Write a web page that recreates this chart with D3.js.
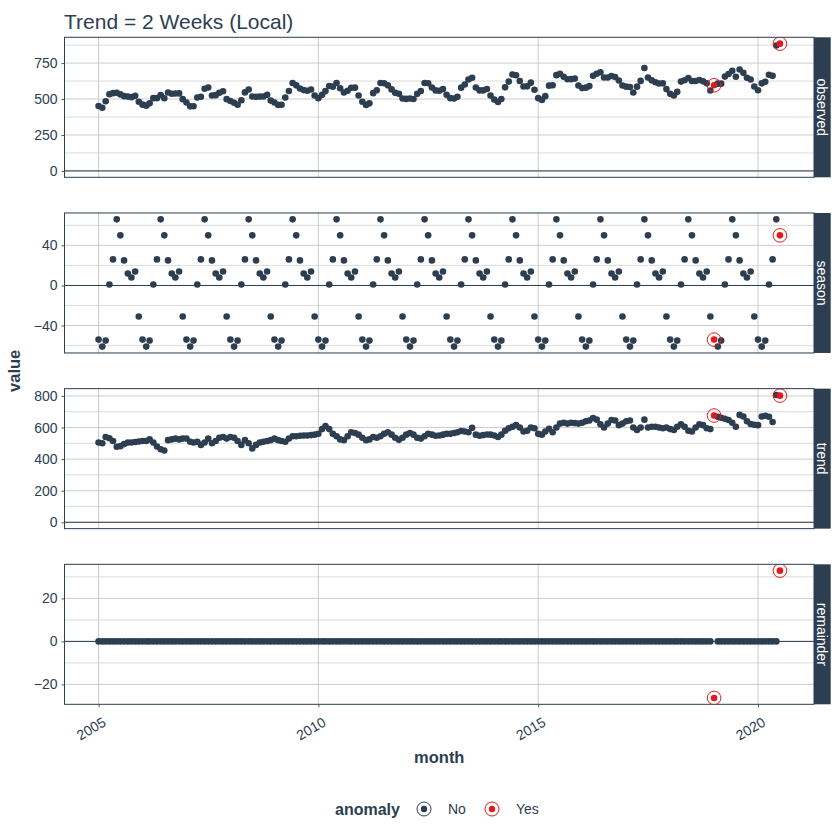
<!DOCTYPE html>
<html>
<head>
<meta charset="utf-8">
<script src="https://cdn.jsdelivr.net/npm/d3@7"></script>
<style>
  body { margin: 0; background: #fff; }
  text { font-family: "Liberation Sans", Arial, sans-serif; }
</style>
</head>
<body>
<div id="chart"></div>
<script>
// monthly trend component, Jan 2005 .. Jul 2020
const startMonth = "2005-01";
const trend = [
  505, 500, 540, 532, 515, 478, 482, 495, 505, 505, 508, 512, // 2005
  515, 515, 525, 505, 480, 462, 455, 520, 525, 530, 525, 530, // 2006
  530, 510, 505, 510, 490, 505, 530, 500, 515, 535, 540, 530, // 2007
  540, 535, 515, 490, 520, 500, 468, 490, 505, 510, 515, 520, // 2008
  530, 520, 515, 510, 530, 545, 545, 548, 550, 550, 552, 555, // 2009
  560, 590, 610, 590, 560, 545, 525, 520, 545, 570, 565, 555, // 2010
  535, 520, 525, 540, 535, 545, 560, 570, 555, 535, 522, 535, // 2011
  555, 565, 555, 535, 530, 545, 560, 555, 548, 550, 555, 560, // 2012
  560, 565, 570, 578, 575, 570, 598, 555, 548, 552, 556, 555, // 2013
  550, 540, 555, 580, 595, 605, 615, 600, 575, 580, 600, 595, // 2014
  560, 555, 575, 592, 570, 600, 625, 630, 625, 630, 628, 625, // 2015
  630, 640, 645, 660, 650, 620, 600, 625, 648, 645, 615, 625, // 2016
  640, 645, 600, 585, 600, 650, 600, 605, 605, 600, 595, 600, // 2017
  590, 585, 605, 620, 605, 580, 575, 600, 620, 615, 595, 590, // 2018
  676, 668, 662, 655, 648, 630, 605, 680, 670, 640, 622, 618, // 2019
  615, 670, 675, 668, 635, 806, 802                          // 2020
];
// seasonal component by calendar month (Jan..Dec)
const seasonByMonth = [-54, -61, -55, 1, 26, 66, 50, 25, 12, 8, 14, -31];
// anomalies: month and remainder value (remainder is 0 elsewhere)
const anomalyMonths = ["2019-01", "2020-07"];
const anomalyRemainder = [-26.3, 32.9];

const facets = ["observed", "season", "trend", "remainder"];
const observedTicks = [0, 250, 500, 750];
const seasonTicks = [-40, 0, 40];
const trendTicks = [0, 200, 400, 600, 800];
const remainderTicks = [-20, 0, 20];
const yearTicks = [2005, 2010, 2015, 2020];

const colNo = "#2c3e50", colYes = "#e31a1c", ink = "#2c3e50";

// build the table
const parseMonth = d3.utcParse("%Y-%m");
const fmtMonth = d3.utcFormat("%Y-%m");
const start = parseMonth(startMonth);
const rows = trend.map((t, i) => {
  const date = d3.utcMonth.offset(start, i);
  const k = anomalyMonths.indexOf(fmtMonth(date));
  const season = seasonByMonth[date.getUTCMonth()];
  const remainder = k >= 0 ? anomalyRemainder[k] : 0;
  return {
    date, trend: t, season, remainder,
    observed: t + season + remainder,
    anomaly: k >= 0 ? "Yes" : "No"
  };
});
const ticksFor = { observed: observedTicks, season: seasonTicks, trend: trendTicks, remainder: remainderTicks };

const W = 840, H = 840;
const px0 = 64.5, px1 = 814, stripW = 16.7;
const panelTop = 37.3, panelStep = 175.67, panelH = 140;

const svg = d3.select("#chart").append("svg")
  .attr("width", W).attr("height", H);

// x scale with ggplot's 5% expansion
const ext = d3.extent(rows, d => +d.date);
const pad = (ext[1] - ext[0]) * 0.05;
const x = d3.scaleUtc().domain([new Date(ext[0] - pad), new Date(ext[1] + pad)]).range([px0, px1]);
const yearDates = yearTicks.map(y => new Date(Date.UTC(y, 0, 1)));

// title
svg.append("text").attr("x", 64).attr("y", 29)
  .attr("font-size", 21).attr("fill", ink).text("Trend = 2 Weeks (Local)");

facets.forEach((f, fi) => {
  const top = panelTop + fi * panelStep;
  const g = svg.append("g").attr("transform", `translate(0,${top})`);
  const vals = rows.map(d => d[f]).concat([0]);
  const [lo, hi] = d3.extent(vals);
  const yp = (hi - lo) * 0.05;
  const y = d3.scaleLinear().domain([lo - yp, hi + yp]).range([panelH, 0]);
  const major = ticksFor[f];
  const step = major[1] - major[0];
  const minor = d3.range(major[0] - step / 2, hi + yp, step).filter(v => v > lo - yp && v < hi + yp);

  g.append("clipPath").attr("id", "clip" + fi)
    .append("rect").attr("x", px0).attr("y", 0).attr("width", px1 - px0).attr("height", panelH);

  // grid
  g.selectAll(".minor").data(minor).join("line")
    .attr("x1", px0).attr("x2", px1).attr("y1", d => y(d)).attr("y2", d => y(d))
    .attr("stroke", "#d2d2d2").attr("stroke-width", 0.8);
  g.selectAll(".major").data(major).join("line")
    .attr("x1", px0).attr("x2", px1).attr("y1", d => y(d)).attr("y2", d => y(d))
    .attr("stroke", "#cccccc").attr("stroke-width", 1);
  g.selectAll(".vgrid").data(yearDates).join("line")
    .attr("x1", d => x(d)).attr("x2", d => x(d)).attr("y1", 0).attr("y2", panelH)
    .attr("stroke", "#cccccc").attr("stroke-width", 1);

  // zero line
  g.append("line").attr("x1", px0).attr("x2", px1).attr("y1", y(0)).attr("y2", y(0))
    .attr("stroke", ink).attr("stroke-width", 1);

  const pts = g.append("g").attr("clip-path", `url(#clip${fi})`);
  const ordered = rows.filter(d => d.anomaly === "No").concat(rows.filter(d => d.anomaly === "Yes"));
  pts.selectAll("circle.pt").data(ordered).join("circle")
    .attr("cx", d => x(d.date)).attr("cy", d => y(d[f]))
    .attr("r", 3.3)
    .attr("fill", d => d.anomaly === "Yes" ? colYes : colNo);
  pts.selectAll("circle.ring").data(rows.filter(d => d.anomaly === "Yes")).join("circle")
    .attr("cx", d => x(d.date)).attr("cy", d => y(d[f])).attr("r", 6.8)
    .attr("fill", "none").attr("stroke", colYes).attr("stroke-width", 1);

  // border
  g.append("rect").attr("x", px0).attr("y", 0).attr("width", px1 - px0).attr("height", panelH)
    .attr("fill", "none").attr("stroke", ink).attr("stroke-width", 1);

  // strip
  g.append("rect").attr("x", px1).attr("y", 0).attr("width", stripW).attr("height", panelH)
    .attr("fill", ink);
  g.append("text")
    .attr("transform", `translate(${px1 + stripW / 2},${panelH / 2}) rotate(90)`)
    .attr("text-anchor", "middle").attr("dy", "0.35em")
    .attr("font-size", 14).attr("fill", "#fff").text(f);

  // y axis
  const ya = g.append("g").attr("transform", `translate(${px0},0)`)
    .call(d3.axisLeft(y).tickValues(major).tickSize(3).tickPadding(4));
  ya.select(".domain").remove();
  ya.selectAll(".tick line").attr("stroke", "#555");
  ya.selectAll(".tick text").attr("font-size", 14).attr("fill", ink)
    .attr("font-family", "Liberation Sans, Arial, sans-serif");

  // x axis on bottom panel
  if (fi === facets.length - 1) {
    const xa = g.append("g").attr("transform", `translate(0,${panelH})`)
      .call(d3.axisBottom(x).tickValues(yearDates).tickSize(3).tickFormat(d3.utcFormat("%Y")));
    xa.select(".domain").remove();
    xa.selectAll(".tick line").attr("stroke", "#555");
    xa.selectAll(".tick text")
      .attr("font-size", 14).attr("fill", ink)
      .attr("font-family", "Liberation Sans, Arial, sans-serif")
      .attr("text-anchor", "end")
      .attr("y", 0).attr("dy", "0.72em")
      .attr("transform", "translate(3,12) rotate(-30)");
  }
});

// axis titles
svg.append("text").attr("x", (px0 + px1) / 2).attr("y", 763)
  .attr("text-anchor", "middle").attr("font-size", 16.5).attr("font-weight", "bold")
  .attr("fill", ink).text("month");
svg.append("text")
  .attr("transform", `translate(20,${panelTop + (3 * panelStep + panelH) / 2}) rotate(-90)`)
  .attr("text-anchor", "middle").attr("font-size", 16.5).attr("font-weight", "bold")
  .attr("fill", ink).text("value");

// legend
const lg = svg.append("g").attr("transform", "translate(0,809)");
lg.append("text").attr("x", 335).attr("dy", "0.35em").attr("font-size", 16)
  .attr("font-weight", "bold").attr("fill", ink).text("anomaly");
const keys = [{ label: "No", col: colNo, cx: 424 }, { label: "Yes", col: colYes, cx: 492 }];
keys.forEach(k => {
  lg.append("circle").attr("cx", k.cx).attr("cy", 0).attr("r", 7)
    .attr("fill", "none").attr("stroke", k.col).attr("stroke-width", 1);
  lg.append("circle").attr("cx", k.cx).attr("cy", 0).attr("r", 3.2).attr("fill", k.col);
  lg.append("text").attr("x", k.cx + 24).attr("dy", "0.35em").attr("font-size", 14)
    .attr("fill", ink).text(k.label);
});
</script>
</body>
</html>
